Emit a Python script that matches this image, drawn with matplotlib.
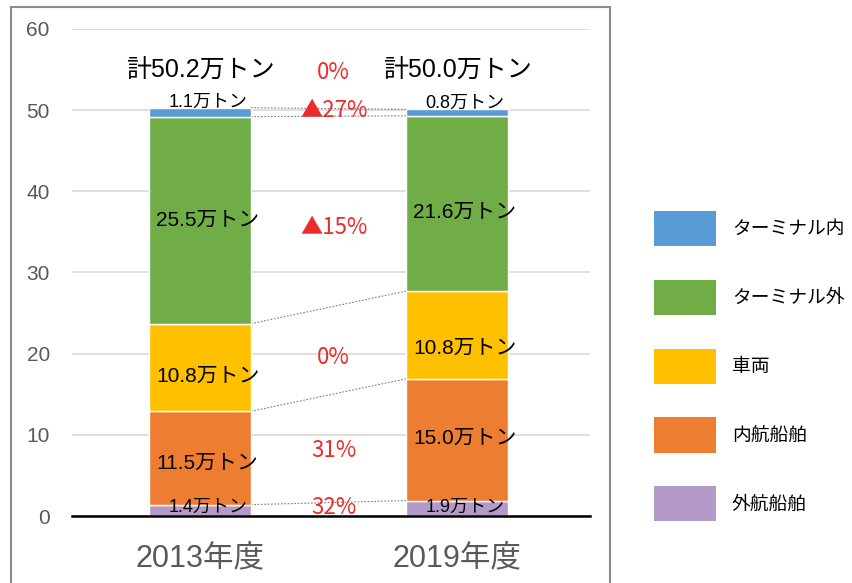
import matplotlib.pyplot as plt
from matplotlib.patches import Patch, Rectangle

plt.rcParams['font.family'] = ['Liberation Sans', 'Noto Sans CJK JP']

# data
years = ["2013年度", "2019年度"]
categories = ["外航船舶", "内航船舶", "車両", "ターミナル外", "ターミナル内"]
v2013 = [1.4, 11.5, 10.8, 25.5, 1.1]
v2019 = [1.9, 15.0, 10.8, 21.6, 0.8]
totals = ["計50.2万トン", "計50.0万トン"]
changes = ["32%", "31%", "0%", "▲15%", "▲27%"]
total_change = "0%"

colors = ["#B49AC8", "#ED7D31", "#FFC000", "#70AD47", "#5B9BD5"]
red = "#EE2B2B"

# label layout tweaks (y offsets from segment centre)
lab_off = [[0.4, -0.6, -1.1, 0.0, 1.2], [0.15, 0.2, -1.6, -1.1, 1.2]]
lab_size = [13, 15, 15, 15, 13]
chg_y = [1.1, 8.1, 19.5, 35.5, 50.0]
red_font = ['Noto Sans CJK JP']

fig = plt.figure(figsize=(8.53, 5.83), dpi=100)
ax = fig.add_axes([0.0844, 0.1149, 0.6073, 0.8354])

# outer frame
fig.patches.append(Rectangle((0.013, -0.05), 0.702, 1.038, transform=fig.transFigure,
                             fill=False, edgecolor="#8c8c8c", linewidth=1.5))

x = [0, 1]
w = 0.397
bottoms = [0, 0]
for i, cat in enumerate(categories):
    vals = [v2013[i], v2019[i]]
    ax.bar(x, vals, w, bottom=bottoms, color=colors[i], edgecolor="white",
           linewidth=1, zorder=3)
    for j in range(2):
        yc = bottoms[j] + vals[j] / 2 + lab_off[j][i]
        ax.text(x[j] + 0.03, yc, f"{vals[j]}万トン", ha="center", va="center",
                fontsize=lab_size[i], zorder=5)
    bottoms = [bottoms[0] + vals[0], bottoms[1] + vals[1]]
    # dotted connector
    ax.plot([x[0] + w / 2, x[1] - w / 2], bottoms, linestyle=(0, (1.5, 1.5)),
            color="#7f7f7f", linewidth=0.8, zorder=2)
    ax.text(0.52, chg_y[i], changes[i], ha="center", va="center",
            fontsize=16, color=red, family=red_font, zorder=5)

for j in range(2):
    ax.text(x[j], 54.9, totals[j], ha="center", va="center", fontsize=18)
ax.text(0.52, 54.6, total_change, ha="center", va="center", fontsize=16,
        color=red, family=red_font)

ax.set_xlim(-0.498, 1.5175)
ax.set_ylim(0, 60)
ax.set_yticks(range(0, 61, 10))
ax.set_xticks(x)
ax.set_xticklabels(years, fontsize=22, color="#595959")
ax.tick_params(axis="x", length=0, pad=20)
ax.tick_params(axis="y", length=0, pad=16, labelsize=15, labelcolor="#595959")
ax.grid(axis="y", color="#d9d9d9", linewidth=1.2, zorder=0)
ax.set_axisbelow(True)
for s in ["top", "right", "left"]:
    ax.spines[s].set_visible(False)
ax.spines["bottom"].set_color("black")
ax.spines["bottom"].set_linewidth(1.8)
ax.spines["bottom"].set_zorder(6)

handles = [Patch(facecolor=c) for c in colors][::-1]
fig.legend(handles, categories[::-1], loc="upper left",
           bbox_to_anchor=(0.7667, 0.638), frameon=False, fontsize=13.5,
           borderpad=0, borderaxespad=0, handlelength=3.3, handleheight=2.5,
           labelspacing=1.8, handletextpad=0.85)

fig.savefig("out.png", dpi=100)
